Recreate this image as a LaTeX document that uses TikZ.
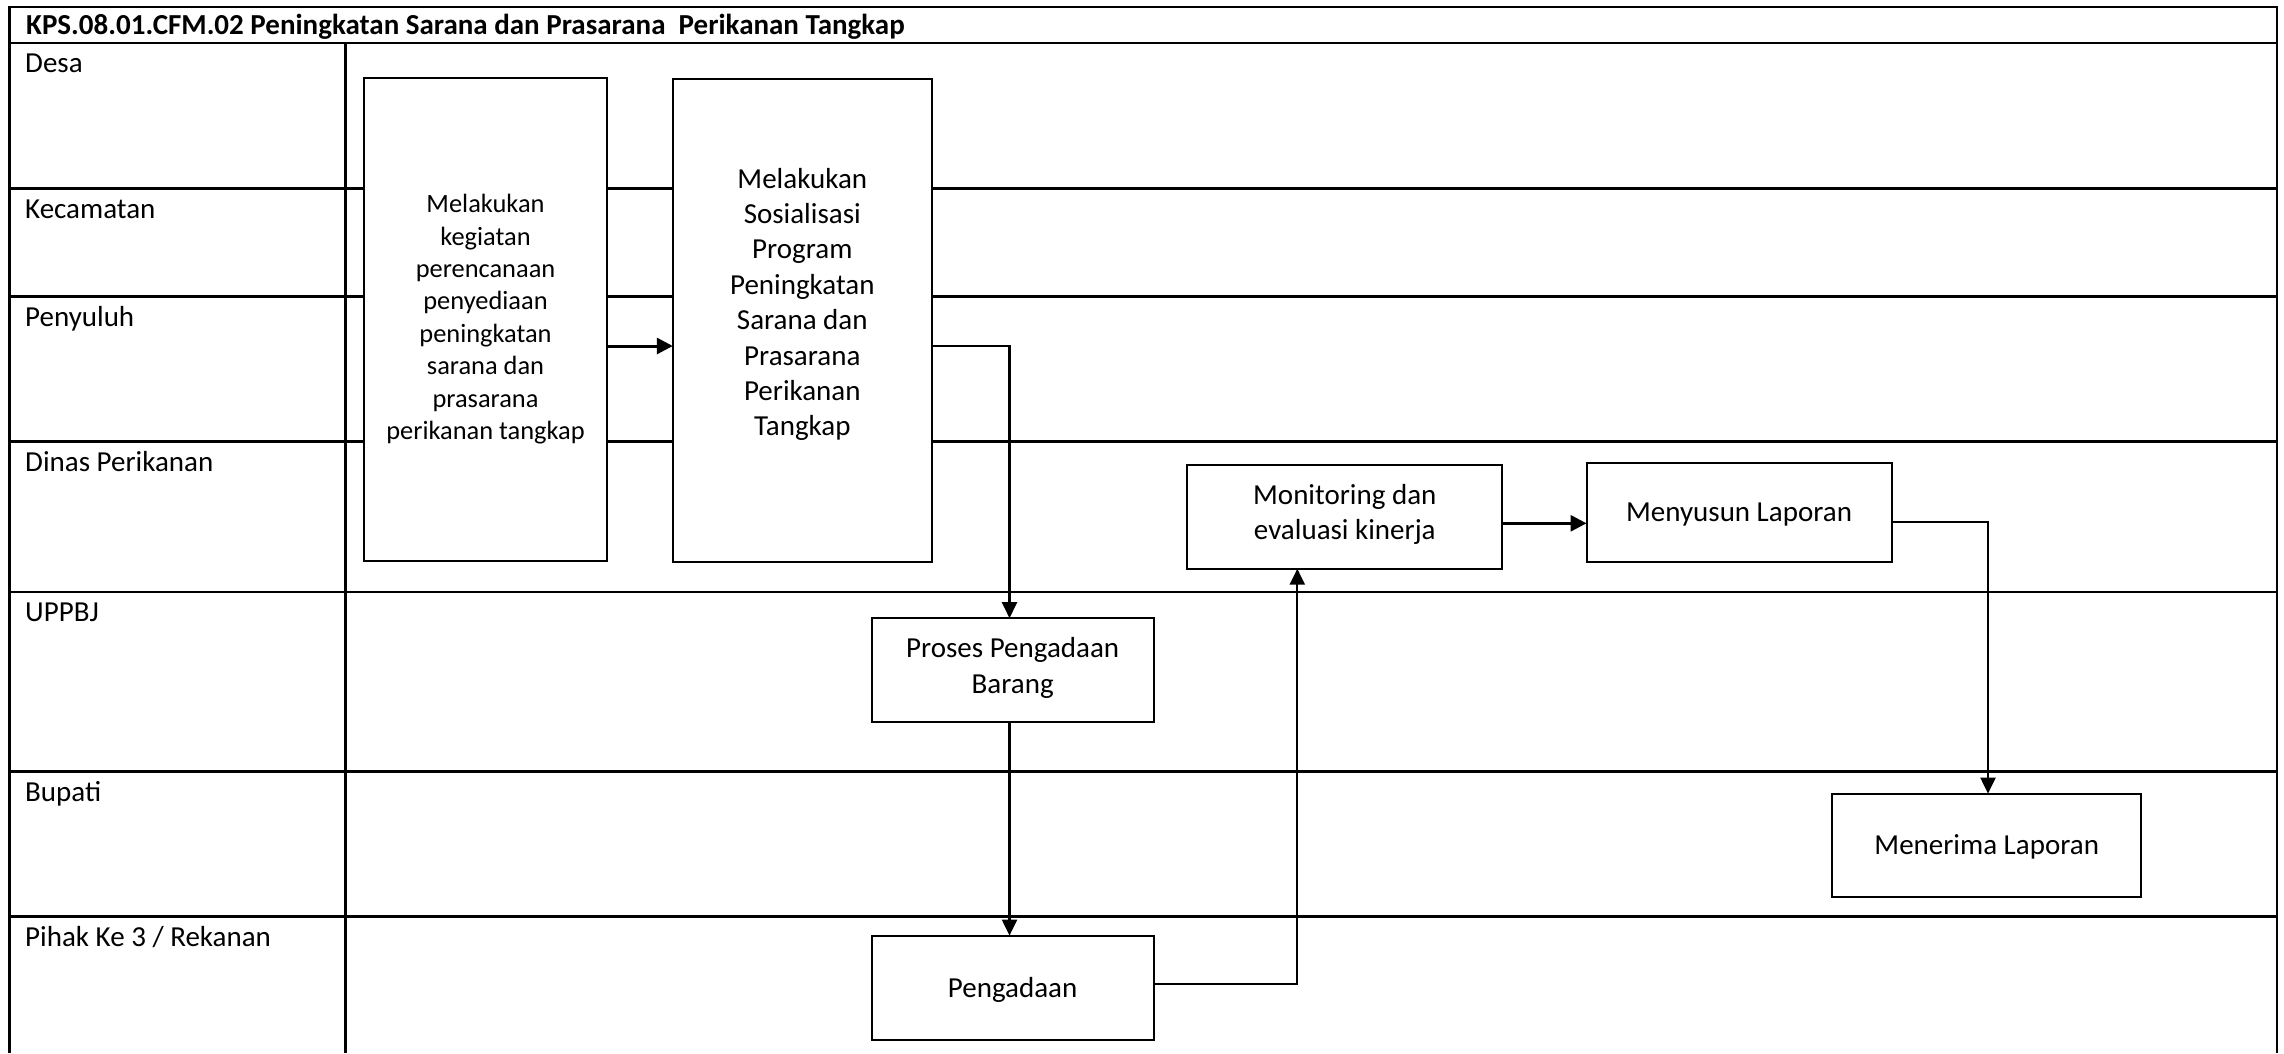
\documentclass[tikz,border=0pt]{standalone}
\usepackage{fontspec}
\setmainfont{Carlito}
\usetikzlibrary{arrows.meta,fit,calc}
\begin{document}
\begin{tikzpicture}[x=1pt,y=-1pt,
  lane/.style={line width=2.6pt},
  box/.style={draw, line width=2pt, fill=white, inner sep=0pt, outer sep=0pt},
  boxtext/.style={align=center, font=\fontsize{29}{35.4}\selectfont, inner sep=0pt},
  smalltext/.style={align=center, font=\fontsize{26.4}{32.4}\selectfont, inner sep=0pt},
  lanelabel/.style={anchor=base west, font=\fontsize{29}{35.4}\selectfont, inner sep=0pt},
  titletext/.style={anchor=base west, font=\fontsize{29}{35.4}\selectfont\bfseries, inner sep=0pt},
  conn/.style={line width=2.2pt, -{Triangle[length=16pt,width=15pt]}},
  thickconn/.style={line width=3pt, -{Triangle[length=16pt,width=16pt]}},
]
\useasboundingbox (0,0) rectangle (2284,1053);

% frame and lanes
\draw[lane, line join=miter] (9.3,1053) -- (9.3,7) -- (2277,7) -- (2277,1053);
\draw[lane] (9.3,43) -- (2277,43);
\draw[lane] (345.7,43) -- (345.7,1053);
\foreach \yy in {188.7,296.6,441.5,592,771.6,916.5}
  \draw[lane] (9.3,\yy) -- (2277,\yy);

% title and lane labels
\node[titletext] (title) at (26,34) {KPS.08.01.CFM.02 Peningkatan Sarana dan Prasarana\ \ Perikanan Tangkap};
\node[lanelabel] (l1) at (25,72.5) {Desa};
\node[lanelabel] (l2) at (25,218) {Kecamatan};
\node[lanelabel] (l3) at (25,326) {Penyuluh};
\node[lanelabel] (l4) at (25,471) {Dinas Perikanan};
\node[lanelabel] (l5) at (25,621.5) {UPPBJ};
\node[lanelabel] (l6) at (25,801) {Bupati};
\node[lanelabel] (l7) at (25,946) {Pihak Ke 3 / Rekanan};

% boxes
\node[box, fit={(364.2,77.7) (606.8,560.7)}] (b1) {};
\node[smalltext] (b1text) at (b1.center) {Melakukan\\kegiatan\\perencanaan\\penyediaan\\peningkatan\\sarana dan\\prasarana\\perikanan tangkap};
\node[box, fit={(672.8,79.2) (931.8,561.8)}] (b2) {};
\node[boxtext] (b2text) at ($(b2.center)+(0,-16)$) {Melakukan\\Sosialisasi\\Program\\Peningkatan\\Sarana dan\\Prasarana\\Perikanan\\Tangkap};
\node[box, fit={(871.5,618.2) (1153.8,721.5)}] (proses) {};
\node[boxtext] (prosestext) at ($(proses.center)+(0,-2)$) {Proses Pengadaan\\Barang};
\node[box, fit={(871.5,935.6) (1153.8,1039.7)}] (pengadaan) {};
\node[boxtext] (pengadaantext) at ($(pengadaan.center)+(0,2)$) {Pengadaan};
\node[box, fit={(1187.3,464.6) (1502.3,568.7)}] (monit) {};
\node[boxtext] (monittext) at ($(monit.center)+(0,-2)$) {Monitoring dan\\evaluasi kinerja};
\node[box, fit={(1586.5,463.3) (1891.6,561.6)}] (menyu) {};
\node[boxtext] (menyutext) at ($(menyu.center)+(0,2)$) {Menyusun Laporan};
\node[box, fit={(1832.4,793.6) (2141,896.5)}] (menerima) {};
\node[boxtext] (menerimatext) at ($(menerima.center)+(0,2)$) {Menerima Laporan};

% connectors
\coordinate (y346) at (0,346);
\coordinate (c2) at (1009.5,346);
\coordinate (c4) at (1297.3,984);
\coordinate (y523) at (0,523.3);
\coordinate (c6) at (1988,522);

\draw[thickconn] (b1.east |- y346) -- (b2.west |- y346);
\draw[conn] (b2.east |- c2) -- (c2) -- (c2 |- proses.north);
\draw[conn] (proses.south -| c2) -- (pengadaan.north -| c2);
\draw[conn] (pengadaan.east |- c4) -- (c4) -- (c4 |- monit.south);
\draw[thickconn] (monit.east |- y523) -- (menyu.west |- y523);
\draw[conn] (menyu.east |- c6) -- (c6) -- (c6 |- menerima.north);
\end{tikzpicture}
\end{document}
